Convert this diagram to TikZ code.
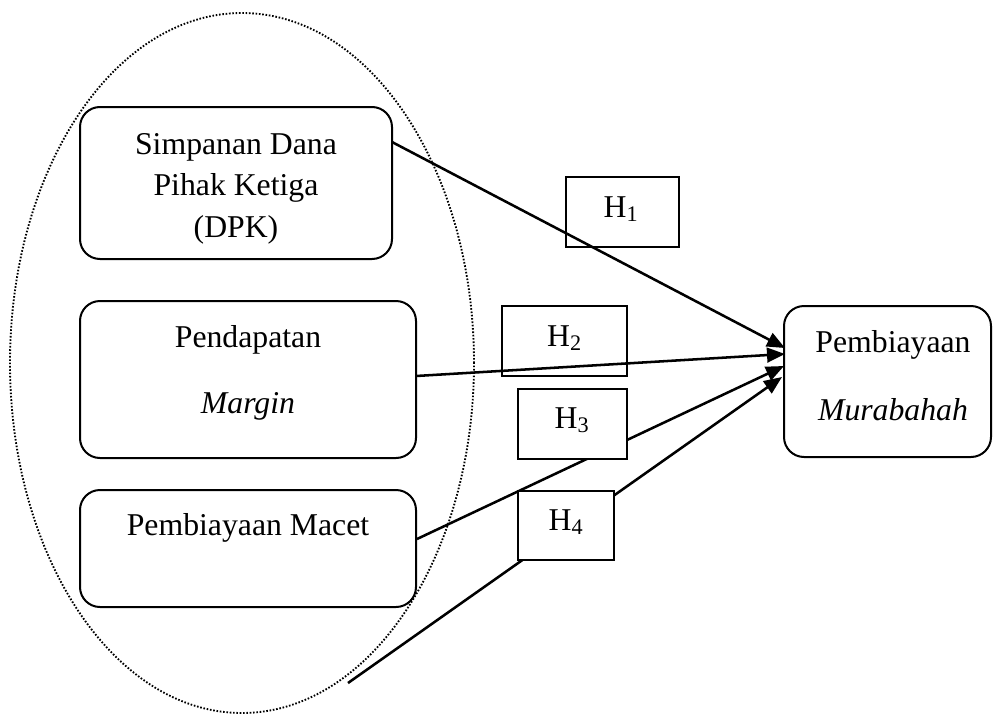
\documentclass[tikz,border=0pt]{standalone}
\usepackage{fontspec}
\setmainfont{Liberation Serif}
\usetikzlibrary{arrows.meta}
\begin{document}
\begin{tikzpicture}[x=0.75pt,y=-0.75pt,
  rbox/.style={draw,line width=1.5pt,rounded corners=15pt,inner sep=0pt},
  hbox/.style={draw,line width=1.6pt,fill=white,inner sep=0pt},
  txt/.style={inner sep=0pt,anchor=base,font=\fontsize{23.8}{28}\selectfont},
  arr/.style={line width=1.9pt,-{Triangle[length=13.5pt,width=11pt]}},
  dotline/.style={line width=1.4pt,dash pattern=on 1.2pt off 1.3pt}]
\useasboundingbox (0,0) rectangle (993,714);
% dotted ellipse
\draw[dotline] (242,363) ellipse [x radius=174pt, y radius=262.5pt];
% main boxes
\node[rbox,minimum width=234pt,minimum height=114pt] (b1) at (236,183) {};
\node[rbox,minimum width=252pt,minimum height=117.75pt] (b2) at (248,379.5) {};
\node[rbox,minimum width=252pt,minimum height=87.75pt] (b3) at (248,548.5) {};
\node[rbox,minimum width=155.25pt,minimum height=113.25pt] (b4) at (887.5,381.5) {};
% texts
\node[txt] (b1l1) at (236,154) {Simpanan Dana};
\node[txt] (b1l2) at (236,195) {Pihak Ketiga};
\node[txt] (b1l3) at (236,237) {(DPK)};
\node[txt] (b2l1) at (248,347) {Pendapatan};
\node[txt] (b2l2) at (248,413) {\textit{Margin}};
\node[txt] (b3l1) at (248,535) {Pembiayaan Macet};
\node[txt] (b4l1) at (893,352) {Pembiayaan};
\node[txt] (b4l2) at (893,420) {\textit{Murabahah}};
% H1, H2 boxes (lines drawn over them)
\node[hbox,minimum width=84.75pt,minimum height=52.5pt] (h1) at (622.5,212) {};
\node[hbox,minimum width=93.75pt,minimum height=52.5pt] (h2) at (564.5,341) {};
% connector end points
\coordinate (s1) at (392,142);
\coordinate (s2) at (416,376);
\coordinate (s3) at (417,539);
\coordinate (s4) at (348,683);
\coordinate (t1) at (785,348);
\coordinate (t2) at (785,354);
\coordinate (t3) at (784,366);
\coordinate (t4) at (782,377);
\draw[arr] (s1) -- (t1);
\draw[arr] (s2) -- (t2);
\draw[arr] (s3) -- (t3);
\draw[arr] (s4) -- (t4);
% H3, H4 boxes (cover the lines)
\node[hbox,minimum width=81.75pt,minimum height=52.5pt] (h3) at (572.5,424) {};
\node[hbox,minimum width=72pt,minimum height=51.75pt] (h4) at (566,525.5) {};
% H labels
\node[txt] (h1t) at (621,217) {H\textsubscript{1}};
\node[txt] (h2t) at (564.5,346) {H\textsubscript{2}};
\node[txt] (h3t) at (572,428) {H\textsubscript{3}};
\node[txt] (h4t) at (566,530) {H\textsubscript{4}};
\end{tikzpicture}
\end{document}
